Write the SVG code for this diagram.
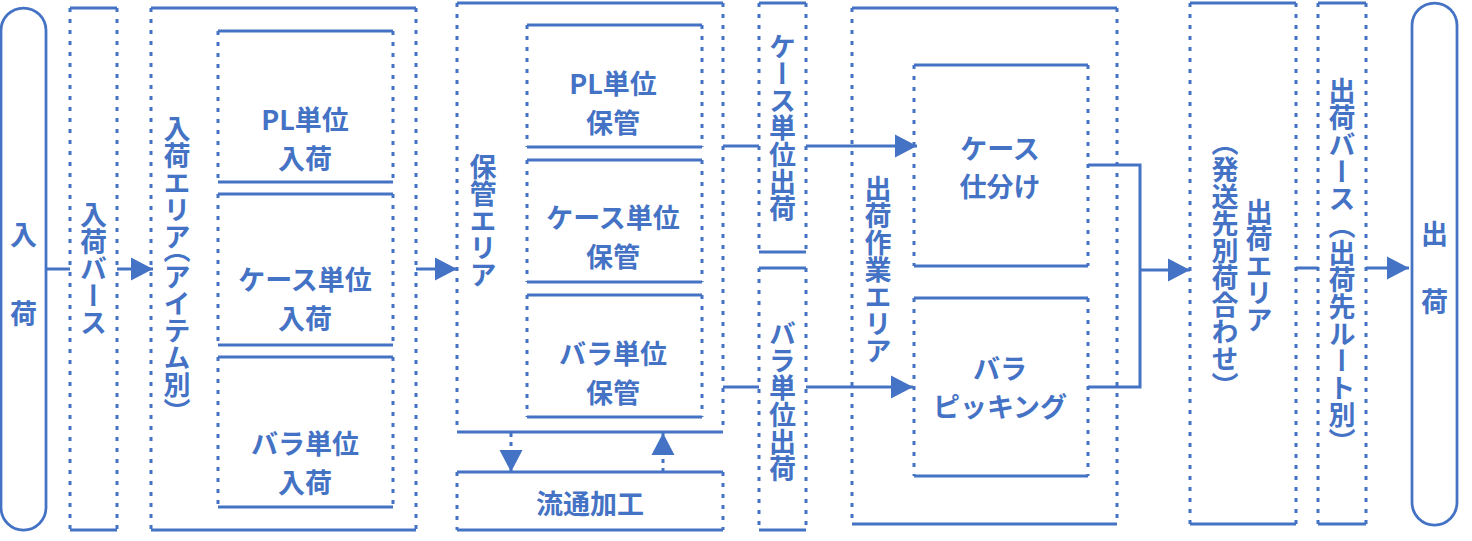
<svg xmlns="http://www.w3.org/2000/svg" width="1472" height="541" viewBox="0 0 1472 541">
<style>
.s{fill:none;stroke:#4472C4;stroke-width:3}
.d{fill:none;stroke:#4472C4;stroke-width:3;stroke-dasharray:4 7}
.c{fill:none;stroke:#4472C4;stroke-width:3}
.cd{fill:none;stroke:#4472C4;stroke-width:3;stroke-dasharray:4 5}
.pill{fill:none;stroke:#4472C4;stroke-width:2.75}
text{font-family:"Noto Sans CJK JP","Noto Sans",sans-serif;font-weight:700;fill:#4472C4;font-size:27px}
.h{text-anchor:middle;dominant-baseline:central}
.v{writing-mode:vertical-rl;text-anchor:middle;letter-spacing:0px}
.hw{font-feature-settings:"vhal"}
</style>
<defs>
<marker id="ah" markerUnits="userSpaceOnUse" markerWidth="24" markerHeight="24" refX="22" refY="12" orient="auto" viewBox="0 0 24 24">
<path d="M0 0.5 L22 12 L0 23.5 Z" fill="#4472C4"/>
</marker>
</defs>
<rect width="1472" height="541" fill="#ffffff"/>

<g id="node-nyuka">
<rect class="pill" x="1" y="8" width="45" height="522" rx="22.5"/>
<text class="h" x="23.5" y="233">入</text>
<text class="h" x="23.5" y="312">荷</text>
</g>

<g id="node-nyuka-berth">
<path class="s" d="M70 8 H117 M70 530 H117"/>
<path class="d" d="M70 8 V530 M117 8 V530"/>
<text class="v" x="93.5" y="269">入荷バース</text>
</g>

<g id="node-nyuka-area">
<path class="s" d="M151 8 H416 M151 530 H416"/>
<path class="d" d="M151 8 V530 M416 8 V530"/>
<text class="v" x="177" y="270">入荷エリア<tspan class="hw">（</tspan>アイテム別）</text>
</g>

<g id="node-pl-nyuka">
<path class="s" d="M218 31 H393 M218 182 H393"/>
<path class="d" d="M218 31 V182 M393 31 V182"/>
<text class="h" x="305" y="118">PL単位</text>
<text class="h" x="305" y="157">入荷</text>
</g>

<g id="node-case-nyuka">
<path class="s" d="M218 194 H393 M218 345 H393"/>
<path class="d" d="M218 194 V345 M393 194 V345"/>
<text class="h" x="305" y="278">ケース単位</text>
<text class="h" x="305" y="317">入荷</text>
</g>

<g id="node-bara-nyuka">
<path class="s" d="M218 357 H393 M218 507 H393"/>
<path class="d" d="M218 357 V507 M393 357 V507"/>
<text class="h" x="305" y="442">バラ単位</text>
<text class="h" x="305" y="481">入荷</text>
</g>

<g id="node-hokan-area">
<path class="s" d="M457 3 H723 M457 432 H723"/>
<path class="d" d="M457 3 V432 M723 3 V432"/>
<text class="v" x="483" y="221">保管エリア</text>
</g>

<g id="node-pl-hokan">
<path class="s" d="M527 25 H702 M527 147 H702"/>
<path class="d" d="M527 25 V147 M702 25 V147"/>
<text class="h" x="613" y="82">PL単位</text>
<text class="h" x="613" y="121">保管</text>
</g>

<g id="node-case-hokan">
<path class="s" d="M527 160 H702 M527 282 H702"/>
<path class="d" d="M527 160 V282 M702 160 V282"/>
<text class="h" x="613" y="216">ケース単位</text>
<text class="h" x="613" y="255">保管</text>
</g>

<g id="node-bara-hokan">
<path class="s" d="M527 295 H702 M527 417 H702"/>
<path class="d" d="M527 295 V417 M702 295 V417"/>
<text class="h" x="613" y="352">バラ単位</text>
<text class="h" x="613" y="391">保管</text>
</g>

<g id="node-ryutsu">
<path class="s" d="M457 472 H723 M457 530 H723"/>
<path class="d" d="M457 472 V530 M723 472 V530"/>
<text class="h" x="590" y="502">流通加工</text>
</g>

<g id="node-case-shukka">
<path class="s" d="M759 3 H806 M759 252 H806"/>
<path class="d" d="M759 3 V252 M806 3 V252"/>
<text class="v" x="782.5" y="128">ケース単位出荷</text>
</g>

<g id="node-bara-shukka">
<path class="s" d="M759 268 H806 M759 530 H806"/>
<path class="d" d="M759 268 V530 M806 268 V530"/>
<text class="v" x="782.5" y="401">バラ単位出荷</text>
</g>

<g id="node-sagyo-area">
<path class="s" d="M852 8 H1117 M852 524 H1117"/>
<path class="d" d="M852 8 V524 M1117 8 V524"/>
<text class="v" x="878" y="270">出荷作業エリア</text>
</g>

<g id="node-case-shiwake">
<path class="s" d="M914 65 H1088 M914 266 H1088"/>
<path class="d" d="M914 65 V266 M1088 65 V266"/>
<text class="h" x="1000" y="147">ケース</text>
<text class="h" x="1000" y="185">仕分け</text>
</g>

<g id="node-bara-picking">
<path class="s" d="M914 298 H1088 M914 476 H1088"/>
<path class="d" d="M914 298 V476 M1088 298 V476"/>
<text class="h" x="1000" y="367">バラ</text>
<text class="h" x="1000" y="405">ピッキング</text>
</g>

<g id="node-shukka-area">
<path class="s" d="M1190 3 H1296 M1190 524 H1296"/>
<path class="d" d="M1190 3 V524 M1296 3 V524"/>
<text class="v" x="1259" y="266">出荷エリア</text>
<text class="v" x="1225" y="264">（発送先別荷合わせ）</text>
</g>

<g id="node-shukka-berth">
<path class="s" d="M1318 3 H1366 M1318 524 H1366"/>
<path class="d" d="M1318 3 V524 M1366 3 V524"/>
<text class="v" x="1342" y="266">出荷バース（出荷先ルート別）</text>
</g>

<g id="node-shukka">
<rect class="pill" x="1412" y="3" width="45" height="522" rx="22.5"/>
<text class="h" x="1434.5" y="232">出</text>
<text class="h" x="1434.5" y="300">荷</text>
</g>

<g id="connectors">
<path class="c" d="M46 269 H70"/>
<path class="c" d="M117 269 H153" marker-end="url(#ah)"/>
<path class="c" d="M416 269 H457" marker-end="url(#ah)"/>
<path class="c" d="M723 146 H759"/>
<path class="c" d="M806 146 H917" marker-end="url(#ah)"/>
<path class="c" d="M723 387 H759"/>
<path class="c" d="M806 387 H913" marker-end="url(#ah)"/>
<path class="c" d="M1088 165 H1140 V387 H1088"/>
<path class="c" d="M1140 270 H1190" marker-end="url(#ah)"/>
<path class="c" d="M1296 268 H1318"/>
<path class="c" d="M1366 268 H1409" marker-end="url(#ah)"/>
<path class="cd" d="M511 433 V472" marker-end="url(#ah)"/>
<path class="cd" d="M663 472 V433" marker-end="url(#ah)"/>
</g>
</svg>
